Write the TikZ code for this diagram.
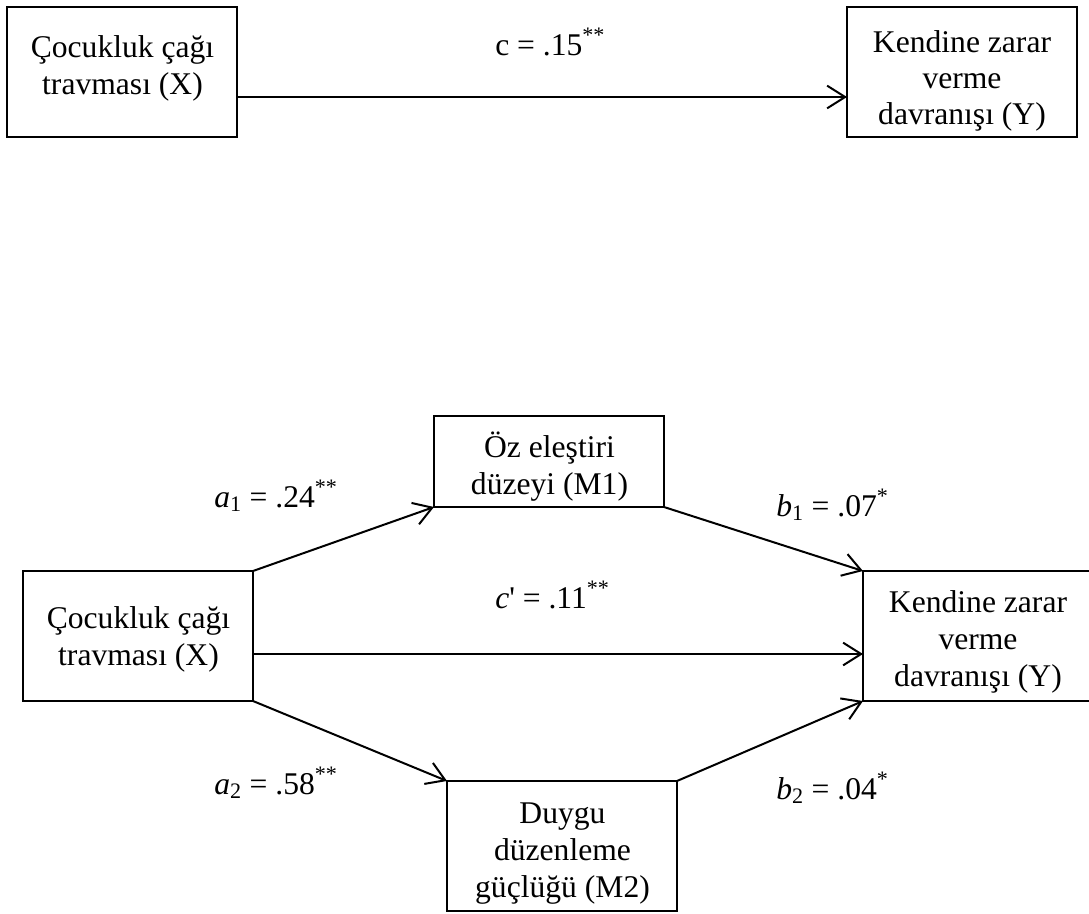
\documentclass[tikz,border=0pt]{standalone}
\usepackage{fontspec}
\setmainfont{Liberation Serif}[Ligatures=TeXOff]
\usetikzlibrary{arrows.meta}
\begin{document}
\begin{tikzpicture}[x=0.75pt,y=-0.75pt,
  box/.style={draw, line width=1.5pt, minimum width=172.5pt, minimum height=97.5pt, inner sep=0pt, outer sep=0pt, anchor=north west},
  txt/.style={anchor=base, inner sep=0pt, font=\fontsize{23.7}{28}\selectfont},
  lab/.style={anchor=base west, inner sep=0pt, font=\fontsize{23.7}{28}\selectfont},
  arr/.style={line width=1.5pt, -{Straight Barb[length=13.5pt,width=17pt]}}
]
\useasboundingbox (0,0) rectangle (1089,914);
\clip (0,0) rectangle (1089,914);

% ---- top model ----
\node[box] (tx) at (7,7) {};
\node[box] (ty) at (847,7) {};
\node[txt] (tx1) at (122.5,57) {Çocukluk çağı};
\node[txt] (tx2) at (122.5,94) {travması (X)};
\node[txt] (ty1) at (962,52) {Kendine zarar};
\node[txt] (ty2) at (962,88) {verme};
\node[txt] (ty3) at (962,124) {davranışı (Y)};
\coordinate (topline) at (0,97);
\draw[arr] (tx.east |- topline) -- (ty.west |- topline);
\node[lab] (lc) at (495,55) {c = .15\textsuperscript{**}};

% ---- mediation model ----
\node[box] (bx) at (23,571) {};
\node[box] (by) at (863,571) {};
\node[box, minimum height=68.25pt] (m1) at (434,416) {};
\node[box] (m2) at (447,781) {};

\node[txt] (bx1) at (138.5,628) {Çocukluk çağı};
\node[txt] (bx2) at (138.5,665) {travması (X)};
\node[txt] (by1) at (978,612) {Kendine zarar};
\node[txt] (by2) at (978,649) {verme};
\node[txt] (by3) at (978,686) {davranışı (Y)};
\node[txt] (m1a) at (549.5,457) {Öz eleştiri};
\node[txt] (m1b) at (549.5,494) {düzeyi (M1)};
\node[txt] (m2a) at (562.5,823) {Duygu};
\node[txt] (m2b) at (562.5,860) {düzenleme};
\node[txt] (m2c) at (562.5,897) {güçlüğü (M2)};

\coordinate (midline) at (0,654);
\draw[arr] (bx.north east) -- (m1.south west);
\draw[arr] (m1.south east) -- (by.north west);
\draw[arr] (bx.east |- midline) -- (by.west |- midline);
\draw[arr] (bx.south east) -- (m2.north west);
\draw[arr] (m2.north east) -- (by.south west);

\node[lab] (la1) at (214,507) {\textit{a}\textsubscript{1} = .24\textsuperscript{**}};
\node[lab] (lb1) at (776,516) {\textit{b}\textsubscript{1} = .07\textsuperscript{*}};
\node[lab] (lcp) at (495,608) {\textit{c}' = .11\textsuperscript{**}};
\node[lab] (la2) at (214,794) {\textit{a}\textsubscript{2} = .58\textsuperscript{**}};
\node[lab] (lb2) at (776,799) {\textit{b}\textsubscript{2} = .04\textsuperscript{*}};
\end{tikzpicture}
\end{document}
